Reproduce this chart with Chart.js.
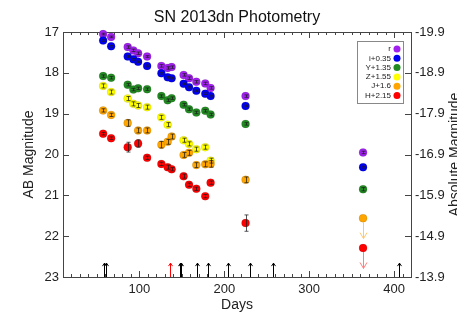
<!DOCTYPE html>
<html>
<head>
<meta charset="utf-8">
<script src="https://cdn.jsdelivr.net/npm/chart.js@4.4.1/dist/chart.umd.min.js"></script>
<style>
  html, body { margin: 0; padding: 0; background: #fff; overflow: hidden; }
</style>
</head>
<body>
<canvas id="phot" width="457" height="320"></canvas>
<script>
// SN 2013dn light curves (days, AB mag incl. offsets)
const bandLabels = ['r', 'i+0.35', 'Y+1.35', 'Z+1.55', 'J+1.6', 'H+2.15'];
const bandColors = ['#a020f0', '#0000f0', '#228b22', '#ffff00', '#ffa500', '#ff0000'];

const rDays = [57.3, 66.7, 86.2, 92.9, 98.5, 109.1, 125.9, 133.3, 138.0, 152.1, 158.5, 167.1, 177.6, 183.9, 225.1, 363.5];
const rMags = [17.05, 17.12, 17.37, 17.45, 17.52, 17.60, 17.83, 17.88, 17.86, 18.05, 18.13, 18.22, 18.26, 18.37, 18.57, 19.95];
const rErrs = [0.02, 0.02, 0.03, 0.03, 0.03, 0.02, 0.03, 0.03, 0.03, 0.03, 0.03, 0.03, 0.03, 0.03, 0.03, 0.03];

const iDays = [57.3, 66.7, 86.2, 92.9, 98.5, 109.1, 125.9, 133.3, 138.0, 152.1, 158.5, 167.1, 177.6, 183.9, 225.1, 363.5];
const iMags = [17.21, 17.35, 17.60, 17.67, 17.73, 17.83, 18.01, 18.11, 18.13, 18.27, 18.35, 18.44, 18.51, 18.57, 18.81, 20.31];
const iErrs = [0.02, 0.02, 0.02, 0.02, 0.02, 0.02, 0.02, 0.02, 0.02, 0.02, 0.02, 0.02, 0.02, 0.02, 0.02, 0.02];

const yDays = [57.3, 66.7, 86.2, 92.9, 98.5, 109.1, 125.9, 133.3, 138.0, 152.1, 158.5, 167.1, 177.6, 183.9, 225.1, 363.5];
const yMags = [18.08, 18.12, 18.29, 18.41, 18.38, 18.40, 18.57, 18.67, 18.62, 18.78, 18.89, 18.97, 18.93, 19.02, 19.25, 20.85];
const yErrs = [0.03, 0.03, 0.03, 0.03, 0.03, 0.03, 0.03, 0.03, 0.03, 0.03, 0.03, 0.03, 0.03, 0.03, 0.03, 0.04];

const zDays = [57.3, 66.7, 86.2, 92.9, 98.5, 109.1, 125.9, 133.3, 152.1, 158.5, 167.1, 177.6, 183.9];
const zMags = [18.32, 18.47, 18.63, 18.76, 18.80, 18.84, 19.09, 19.27, 19.65, 19.74, 19.87, 19.82, 20.15];
const zErrs = [0.05, 0.05, 0.05, 0.05, 0.05, 0.05, 0.05, 0.05, 0.05, 0.05, 0.05, 0.05, 0.06];

const jDays = [57.3, 66.7, 86.2, 98.5, 109.1, 125.9, 133.3, 138.0, 152.1, 158.5, 167.1, 177.6, 183.9, 225.1];
const jMags = [18.92, 19.03, 19.23, 19.41, 19.41, 19.76, 19.69, 19.56, 20.01, 19.96, 20.26, 20.24, 20.23, 20.62];
const jErrs = [0.04, 0.04, 0.08, 0.06, 0.06, 0.08, 0.06, 0.06, 0.06, 0.06, 0.06, 0.06, 0.08, 0.07];

const hDays = [57.3, 66.7, 86.2, 98.5, 109.1, 125.9, 133.3, 138.0, 152.1, 158.5, 167.1, 177.6, 183.9, 225.1];
const hMags = [19.49, 19.60, 19.82, 19.73, 20.08, 20.23, 20.31, 20.36, 20.53, 20.74, 20.84, 21.02, 20.69, 21.68];
const hErrs = [0.03, 0.03, 0.12, 0.09, 0.04, 0.04, 0.05, 0.04, 0.05, 0.04, 0.04, 0.04, 0.04, 0.2];

// upper limits (J and H at the last epoch)
const limitBands = [4, 5];
const limitDays = [363.5, 363.5];
const limitMags = [21.56, 22.29];
const limitColors = ['#ffc86e', '#ff8080'];

// spectrum epochs marked along the bottom
const epochDays = [58, 60.4, 136, 147.8, 149.4, 167.5, 181, 204, 229.8, 257, 405.5];
const epochColors = ['#000', '#000', '#ff0000', '#000', '#000', '#000', '#000', '#000', '#000', '#000', '#000'];

const dayTicks = [100, 200, 300, 400];
const magTicks = [17, 18, 19, 20, 21, 22, 23];
const absTicks = [-19.9, -18.9, -17.9, -16.9, -15.9, -14.9, -13.9];

const allDays = [rDays, iDays, yDays, zDays, jDays, hDays];
const allMags = [rMags, iMags, yMags, zMags, jMags, hMags];
const allErrs = [rErrs, iErrs, yErrs, zErrs, jErrs, hErrs];

const FONT = "'Liberation Sans', Arial, sans-serif";
const AXIS = '#444';

const datasets = bandLabels.map((lab, b) => ({
  label: lab,
  data: allDays[b].map((d, i) => ({ x: d, y: allMags[b][i] })),
  errs: allErrs[b],
  backgroundColor: bandColors[b],
  borderColor: 'rgba(0,0,0,0.2)',
  borderWidth: 0.5,
  pointRadius: 4,
  pointHoverRadius: 4,
  order: bandLabels.length - b,
  clip: false
}));
datasets.push({
  label: 'limits',
  data: limitDays.map((d, i) => ({ x: d, y: limitMags[i] })),
  backgroundColor: limitBands.map(b => bandColors[b]),
  borderColor: 'rgba(0,0,0,0.2)',
  borderWidth: 0.5,
  pointRadius: 4,
  order: 0,
  clip: false
});

function seg(ctx, x1, y1, x2, y2) {
  ctx.beginPath();
  ctx.moveTo(x1, y1);
  ctx.lineTo(x2, y2);
  ctx.stroke();
}

// box frame with inward ticks, IDL style
const framePlugin = {
  id: 'frame',
  beforeDatasetsDraw(chart) {
    const { ctx, chartArea: a, scales } = chart;
    ctx.save();
    ctx.strokeStyle = AXIS;
    ctx.lineWidth = 1;
    ctx.strokeRect(a.left + 0.5, a.top + 0.5, a.right - a.left, a.bottom - a.top);
    for (let d = 10; d <= 420; d += 10) {
      const x = Math.round(scales.x.getPixelForValue(d)) + 0.5;
      const len = d % 100 === 0 ? 6 : 3;
      seg(ctx, x, a.bottom, x, a.bottom - len);
      seg(ctx, x, a.top, x, a.top + len);
    }
    magTicks.forEach(v => {
      const y = Math.round(scales.y.getPixelForValue(v)) + 0.5;
      seg(ctx, a.left, y, a.left + 6, y);
    });
    absTicks.forEach(v => {
      const y = Math.round(scales.y2.getPixelForValue(v)) + 0.5;
      seg(ctx, a.right, y, a.right - 6, y);
    });
    ctx.restore();
  }
};

const marksPlugin = {
  id: 'marks',
  afterDatasetsDraw(chart) {
    const { ctx, scales } = chart;
    const xs = scales.x, ys = scales.y;
    ctx.save();
    // error bars
    ctx.lineWidth = 1;
    chart.data.datasets.forEach(ds => {
      if (!ds.errs) return;
      ctx.strokeStyle = 'rgba(30,30,30,0.75)';
      ds.data.forEach((p, i) => {
        const e = ds.errs[i];
        const x = Math.round(xs.getPixelForValue(p.x)) + 0.5;
        const y1 = ys.getPixelForValue(p.y - e), y2 = ys.getPixelForValue(p.y + e);
        seg(ctx, x, y1, x, y2);
        seg(ctx, x - 2, y1, x + 2, y1);
        seg(ctx, x - 2, y2, x + 2, y2);
      });
    });
    // upper-limit arrows
    limitDays.forEach((d, i) => {
      const x = Math.round(xs.getPixelForValue(d)) + 0.5;
      const y0 = ys.getPixelForValue(limitMags[i]);
      const y1 = ys.getPixelForValue(limitMags[i] + 0.5);
      ctx.strokeStyle = limitColors[i];
      seg(ctx, x, y0 + 4, x, y1);
      ctx.beginPath();
      ctx.moveTo(x - 3.5, y1 - 6);
      ctx.lineTo(x, y1);
      ctx.lineTo(x + 3.5, y1 - 6);
      ctx.stroke();
    });
    // epoch arrows
    epochDays.forEach((d, i) => {
      const x = Math.round(xs.getPixelForValue(d)) + 0.5;
      const yb = ys.getPixelForValue(23);
      const yt = ys.getPixelForValue(22.66);
      ctx.strokeStyle = epochColors[i];
      seg(ctx, x, yb, x, yt);
      ctx.beginPath();
      ctx.moveTo(x - 2, yt + 3);
      ctx.lineTo(x, yt);
      ctx.lineTo(x + 2, yt + 3);
      ctx.stroke();
    });
    ctx.restore();
  },
  afterDraw(chart) {
    const { ctx, chartArea: a } = chart;
    ctx.save();
    // title
    ctx.fillStyle = '#111';
    ctx.font = '16px ' + FONT;
    ctx.textAlign = 'center';
    ctx.textBaseline = 'middle';
    ctx.fillText('SN 2013dn Photometry', (a.left + a.right) / 2, 18);
    // right axis title, reads bottom to top and runs off the edge
    ctx.save();
    ctx.translate(459, (a.top + a.bottom) / 2);
    ctx.rotate(-Math.PI / 2);
    ctx.font = '14px ' + FONT;
    ctx.fillStyle = '#222';
    ctx.textBaseline = 'alphabetic';
    ctx.fillText('Absolute Magnitude', 0, 0);
    ctx.restore();
    // legend box, text right aligned with marker to the right
    const bx = 357, by = 41, bw = 46, bh = 62;
    ctx.fillStyle = '#fff';
    ctx.fillRect(bx, by, bw, bh);
    ctx.strokeStyle = '#888';
    ctx.lineWidth = 1;
    ctx.strokeRect(bx + 0.5, by + 0.5, bw, bh);
    ctx.font = '8px ' + FONT;
    ctx.textAlign = 'right';
    ctx.textBaseline = 'middle';
    bandLabels.forEach((lab, b) => {
      const y = by + 8 + b * 9.3;
      ctx.fillStyle = '#222';
      ctx.fillText(lab, bx + 34, y);
      ctx.fillStyle = bandColors[b];
      ctx.beginPath();
      ctx.arc(bx + 40, y, 3.5, 0, Math.PI * 2);
      ctx.fill();
    });
    ctx.restore();
  }
};

const tickFont = { family: FONT, size: 13 };
const titleFont = { family: FONT, size: 14 };

new Chart(document.getElementById('phot'), {
  type: 'scatter',
  data: { datasets },
  options: {
    responsive: false,
    animation: false,
    layout: { padding: { top: 32, left: 0, right: 0, bottom: 0 } },
    plugins: { legend: { display: false }, tooltip: { enabled: false }, title: { display: false } },
    scales: {
      x: {
        type: 'linear', position: 'bottom', min: 10, max: 420,
        afterBuildTicks: s => { s.ticks = dayTicks.map(v => ({ value: v })); },
        afterFit: s => { s.height = 43; },
        grid: { display: false, drawTicks: false },
        border: { display: false },
        ticks: { font: tickFont, color: '#222', padding: 5, maxRotation: 0, autoSkip: false },
        title: { display: true, text: 'Days', font: titleFont, color: '#222', padding: { top: 0, bottom: 6 } }
      },
      y: {
        type: 'linear', position: 'left', reverse: true, min: 17, max: 23,
        afterBuildTicks: s => { s.ticks = magTicks.map(v => ({ value: v })); },
        afterFit: s => { s.width = 63; },
        grid: { display: false, drawTicks: false },
        border: { display: false },
        ticks: { font: tickFont, color: '#222', padding: 4, autoSkip: false, callback: v => String(v) },
        title: { display: true, text: 'AB Magnitude', font: titleFont, color: '#222', padding: { top: 21, bottom: 0 } }
      },
      y2: {
        type: 'linear', position: 'right', reverse: true, min: -19.9, max: -13.9,
        afterBuildTicks: s => { s.ticks = absTicks.map(v => ({ value: v })); },
        afterFit: s => { s.width = 46; },
        grid: { display: false, drawTicks: false },
        border: { display: false },
        ticks: { font: tickFont, color: '#222', padding: 4, autoSkip: false, callback: v => v.toFixed(1) },
        title: { display: false }
      }
    }
  },
  plugins: [framePlugin, marksPlugin]
});
</script>
</body>
</html>
